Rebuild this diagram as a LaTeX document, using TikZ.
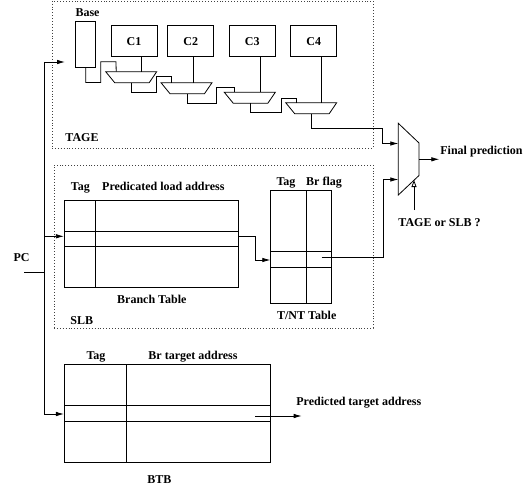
\documentclass[tikz,border=0pt]{standalone}
\usepackage{fontspec}
\setmainfont{Liberation Serif}
\usetikzlibrary{arrows.meta}
\begin{document}
\begin{tikzpicture}[x=1pt,y=-1pt,line width=0.8pt,
  font=\fontsize{12}{14}\selectfont\bfseries,
  lbl/.style={inner sep=0pt,anchor=base},
  lblw/.style={inner sep=0pt,anchor=base west},
  tbl/.style={draw,inner sep=0pt},
  grp/.style={draw=black!75,dotted,line width=0.9pt,inner sep=0pt},
  arr/.style={-{Latex[length=8pt,width=4.5pt]}},
  sel/.style={-{Triangle[open,length=7pt,width=5pt]}}]
\useasboundingbox (0,0) rectangle (526,489);

% group boxes
\node[grp,minimum width=321pt,minimum height=147pt] (tage) at (212.5,74.5) {};
\node[grp,minimum width=319pt,minimum height=163pt] (slb) at (213.5,246.5) {};
\node[lblw] (tagel) at (65,142) {TAGE};
\node[lblw] (slbl) at (70,324.3) {SLB};

% TAGE components
\node[tbl,minimum width=20pt,minimum height=45.6pt] (base) at (85.7,44.5) {};
\node[lbl] (basel) at (87.5,17) {Base};
\node[tbl,minimum width=46pt,minimum height=31pt] (c1) at (134,41.3) {C1};
\node[tbl,minimum width=46pt,minimum height=31pt] (c2) at (190.7,41.3) {C2};
\node[tbl,minimum width=46pt,minimum height=31pt] (c3) at (252.2,41.3) {C3};
\node[tbl,minimum width=46pt,minimum height=31pt] (c4) at (313.7,41.3) {C4};

% muxes (L,T)
\foreach \i/\L/\T/\b in {1/105.7/71.7/36,2/161/82.7/32.3,3/224.3/92.3/35.7,4/285.7/102.7/36}{
  \draw (\L,\T) -- ++(51,0) -- ++(-7.5,11) -- ++(-34.5,0) -- cycle;
  \coordinate (m\i a) at (\L+10.5,\T);
  \coordinate (m\i b) at (\L+\b,\T);
  \coordinate (m\i o) at (\L+26,\T+11);
}
\draw (c1.south -| m1b) -- (m1b);
\draw (c2.south -| m2b) -- (m2b);
\draw (c3.south -| m3b) -- (m3b);
\draw (c4.south -| m4b) -- (m4b);

\draw (base.south) -- (85.7,82.5) -- (100.7,82.5) -- (100.7,61.7) -- (116,61.7) -- (m1a);
\draw (m1o) -- (131.7,92.3) -- (156.7,92.3) -- (156.7,76.7) -- (171.5,76.7) -- (m2a);
\draw (m2o) -- (187,103.3) -- (216.7,103.3) -- (216.7,87.3) -- (234.8,87.3) -- (m3a);
\draw (m3o) -- (250.3,112.7) -- (281,112.7) -- (281,98.3) -- (296.2,98.3) -- (m4a);

% final mux
\coordinate (fm1) at (398.3,123.3);
\coordinate (fm2) at (419,143);
\coordinate (fm3) at (419,175.5);
\coordinate (fm4) at (398.3,195);
\draw (fm1) -- (fm2) -- (fm3) -- (fm4) -- cycle;
\coordinate (fmA) at (398.3,143.5);
\coordinate (fmB) at (398.3,179.5);
\coordinate (fmO) at (419,159.3);
\coordinate (fmS) at (414,180);
\coordinate (selsrc) at (414,210);
\draw (m4o) -- (311.7,128.3) -- (382.7,128.3) -- (382.7,143.5) [arr] -- (fmA);
\node[lblw] (finl) at (440,154.5) {Final prediction};
\draw[arr] (fmO) -- (439.3,159.3);
\draw[sel] (selsrc) -- (fmS);
\node[lblw] (sell) at (398,226) {TAGE or SLB ?};

% Branch table
\node[tbl,minimum width=174.4pt,minimum height=87pt] (bt) at (151.5,243.8) {};
\draw (95.7,200.3) -- (95.7,287.3);
\draw (64.3,231) -- (238.7,231);
\draw (64.3,246.7) -- (238.7,246.7);
\node[lbl] (btt) at (80.3,190) {Tag};
\node[lbl] (bta) at (163.3,190) {Predicated load address};
\node[lbl] (btl) at (151.8,303) {Branch Table};

% T/NT table
\node[tbl,minimum width=61pt,minimum height=113.3pt] (tnt) at (301.2,246.7) {};
\draw (306,190) -- (306,303.3);
\draw (270.7,251.7) -- (331.7,251.7);
\draw (270.7,267) -- (331.7,267);
\node[lbl] (tntt) at (286,185.7) {Tag};
\node[lbl] (tntf) at (324,185.7) {Br flag};
\node[lbl] (tntl) at (306.7,319) {T/NT Table};
\draw (bt.east |- 0,236.3) -- (255,236.3) -- (255,260) [arr] -- (tnt.west |- 0,260);
\draw (321.7,257) -- (383.3,257) -- (383.3,179.5) [arr] -- (fmB);

% BTB
\node[tbl,minimum width=205.7pt,minimum height=98pt] (btb) at (167.2,413.3) {};
\draw (126.7,364.3) -- (126.7,462.3);
\draw (64.3,405.7) -- (270,405.7);
\draw (64.3,421) -- (270,421);
\node[lbl] (btbt) at (96,359.7) {Tag};
\node[lbl] (btba) at (193,359.7) {Br target address};
\node[lbl] (btbl) at (159.3,483.3) {BTB};
\coordinate (btbo) at (301.7,416);
\draw[arr] (255,416) -- (btbo);
\node[lblw] (ptl) at (296,405.7) {Predicted target address};

% PC
\node[lbl] (pc) at (21.5,261.3) {PC};
\coordinate (pcin) at (24,272.3);
\coordinate (pcbase) at (65,62);
\draw (pcin) -- (44,272.3);
\draw (44,62) -- (44,414);
\draw[arr] (44,62) -- (pcbase);
\draw[arr] (44,236.3) -- (bt.west |- 0,236.3);
\draw[arr] (44,414) -- (btb.west |- 0,414);
\end{tikzpicture}
\end{document}
